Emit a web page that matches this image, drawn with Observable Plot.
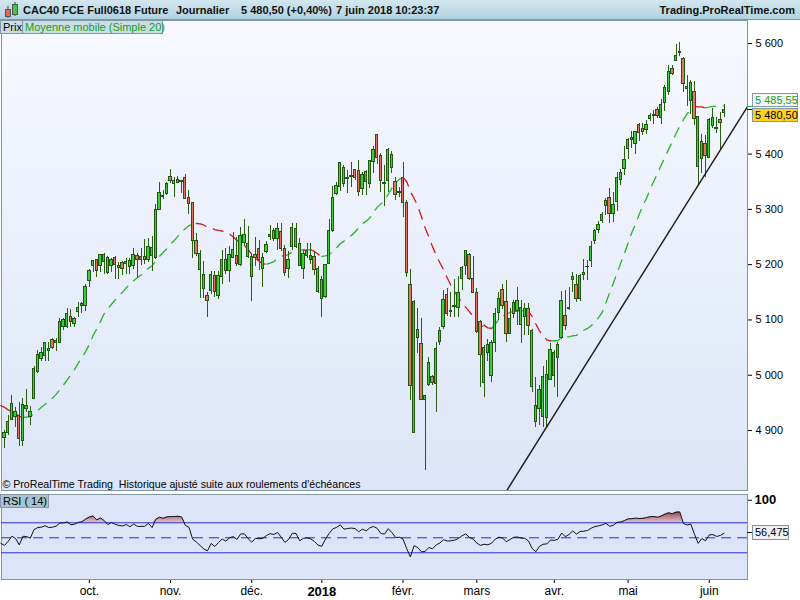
<!DOCTYPE html>
<html>
<head>
<meta charset="utf-8">
<script src="https://cdn.jsdelivr.net/npm/d3@7"></script>
<script src="https://cdn.jsdelivr.net/npm/@observablehq/plot@0.6"></script>
<style>
  body { margin: 0; background: #fff; font-family: "Liberation Sans", Arial, sans-serif; }
  #wrap { position: relative; width: 800px; height: 600px; overflow: hidden; background: #fff; }
  #head { position: absolute; left: 0; top: 0; width: 800px; height: 20px; box-sizing: border-box;
          background: linear-gradient(#d2e6ef, #b2d3e2); border-bottom: 1px solid #7d97a6;
          font-size: 11px; font-weight: bold; color: #111; }
  #head span { position: absolute; top: 1px; line-height: 19px; white-space: pre; }
  .box { position: absolute; box-sizing: border-box; font-size: 11px; line-height: 12px; white-space: pre; border: 1px solid #8197a4; }
  #main, #rsi { position: absolute; left: 0; }
  #main { top: 19px; }
  #rsi { top: 493px; }
</style>
</head>
<body>
<div id="wrap">
  <div id="head">
    <svg width="18" height="18" style="position:absolute;left:2px;top:1px">
      <line x1="6" y1="5" x2="6" y2="17" stroke="#444"/>
      <rect x="3.5" y="8.5" width="5" height="7" fill="#e06a5a" stroke="#555"/>
      <line x1="13" y1="1" x2="13" y2="15" stroke="#444"/>
      <rect x="10.5" y="3.5" width="5" height="10" fill="#3bcc3b" stroke="#555"/>
    </svg>
    <span style="left:23px">CAC40 FCE Full0618 Future</span>
    <span style="left:176px">Journalier</span>
    <span style="left:241px">5 480,50 (+0,40%)</span>
    <span style="left:336px">7 juin 2018 10:23:37</span>
    <span style="right:5px">Trading.ProRealTime.com</span>
  </div>
  <div id="main"></div>
  <div id="rsi"></div>
</div>
<script>
// OHLC, one candle per trading day (30 Aug 2017 .. 7 Jun 2018)
const open = [4887,4896,4919,4924,4927,4881,4939,4924,4957,5006,5029,5035,5043,5063,5058,5058,5088,5087,5106,5093,
  5114,5125,5125,5170,5197,5208,5197,5218,5212,5197,5212,5198,5203,5202,5207,5197,5216,5213,5213,5209,
  5231,5212,5299,5322,5327,5359,5346,5348,5349,5357,5321,5312,5242,5220,5182,5143,5153,5179,5144,5178,
  5209,5188,5212,5215,5199,5239,5237,5214,5217,5229,5193,5223,5250,5260,5247,5259,5229,5193,5232,5232,
  5238,5193,5215,5208,5214,5193,5172,5141,5202,5261,5327,5340,5375,5357,5358,5372,5369,5337,5367,5346,
  5385,5434,5396,5348,5351,5399,5349,5331,5357,5312,5164,4896,5068,5057,4956,4983,4996,4984,5060,5087,
  5145,5117,5125,5122,5174,5197,5218,5174,5149,5096,4986,5054,4999,5059,5112,5154,5132,5075,5111,5117,
  5090,5105,5120,5080,4945,4939,4924,4923,4992,4998,5032,5068,5108,5119,5172,5164,5138,5182,5195,5206,
  5243,5263,5279,5306,5320,5292,5314,5353,5373,5410,5426,5419,5453,5446,5443,5464,5468,5480,5465,5493,
  5512,5553,5569,5584,5572,5522,5496,5512,5467,5391,5418,5393,5450,5446,5462,5474];
const high = [4900,4928,4963,4942,4950,4957,4974,4943,5016,5045,5051,5060,5060,5067,5066,5102,5102,5120,5118,5105,
  5132,5132,5164,5191,5208,5208,5218,5220,5215,5212,5215,5203,5206,5212,5211,5229,5220,5229,5245,5248,
  5251,5308,5348,5334,5348,5372,5358,5360,5352,5363,5335,5313,5256,5226,5205,5150,5187,5187,5187,5226,
  5229,5232,5259,5250,5268,5282,5269,5221,5249,5244,5221,5241,5271,5265,5274,5274,5235,5223,5275,5274,
  5247,5223,5238,5238,5223,5196,5178,5200,5281,5341,5349,5384,5379,5370,5384,5373,5389,5367,5370,5389,
  5413,5434,5401,5379,5410,5404,5358,5340,5384,5316,5192,5135,5120,5102,4962,5032,4999,5060,5087,5153,
  5156,5149,5174,5179,5197,5226,5220,5214,5156,5099,5054,5064,5062,5120,5150,5164,5171,5120,5135,5159,
  5135,5129,5129,5082,4995,4981,5015,5027,5057,5045,5060,5151,5153,5159,5185,5183,5183,5209,5207,5241,
  5263,5278,5295,5319,5337,5331,5367,5373,5414,5429,5440,5441,5455,5455,5461,5473,5479,5484,5499,5524,
  5561,5561,5598,5601,5575,5542,5533,5531,5467,5435,5434,5464,5483,5467,5475,5490];
const low = [4868,4891,4918,4906,4871,4871,4933,4909,4956,5004,5024,5024,5024,5046,5043,5057,5080,5084,5087,5087,
  5105,5111,5115,5158,5185,5176,5186,5182,5183,5185,5173,5174,5180,5182,5182,5192,5177,5198,5201,5204,
  5188,5209,5298,5318,5325,5346,5321,5346,5328,5317,5291,5211,5214,5138,5138,5104,5146,5141,5137,5164,
  5182,5167,5211,5196,5196,5232,5211,5134,5196,5190,5159,5220,5244,5241,5226,5223,5178,5175,5225,5229,
  5196,5173,5211,5200,5181,5147,5104,5138,5200,5259,5325,5333,5339,5328,5340,5352,5323,5325,5325,5337,
  5364,5382,5331,5305,5331,5364,5316,5322,5285,5176,4955,4896,5039,4956,4827,4979,4982,4933,5053,5082,
  5107,5105,5105,5105,5153,5180,5171,5147,5075,4977,4959,5024,4986,5042,5099,5118,5060,5075,5102,5090,
  5058,5072,5072,4969,4906,4909,4906,4905,4991,4977,4960,5064,5080,5117,5150,5132,5134,5171,5171,5194,
  5236,5256,5274,5289,5274,5277,5296,5344,5362,5391,5410,5400,5422,5434,5435,5459,5453,5464,5453,5477,
  5506,5543,5567,5577,5511,5486,5471,5452,5344,5364,5358,5393,5446,5438,5406,5467];
const close = [4895,4916,4948,4934,4885,4947,4945,4933,5012,5036,5041,5058,5047,5050,5061,5097,5099,5110,5096,5102,
  5121,5128,5159,5188,5206,5188,5217,5205,5185,5209,5200,5194,5192,5205,5195,5218,5208,5208,5208,5232,
  5215,5299,5330,5325,5345,5351,5352,5354,5352,5319,5310,5242,5220,5191,5156,5134,5182,5150,5179,5208,
  5188,5217,5227,5202,5252,5254,5214,5178,5212,5208,5212,5236,5253,5247,5265,5229,5184,5208,5267,5265,
  5197,5220,5224,5215,5190,5150,5138,5199,5260,5321,5342,5384,5346,5355,5361,5357,5331,5363,5349,5387,
  5407,5392,5351,5346,5408,5375,5326,5330,5312,5185,4981,5132,5082,4956,4962,5022,4986,5048,5080,5136,
  5110,5114,5124,5149,5194,5224,5174,5149,5078,5036,5050,5040,5059,5111,5138,5126,5075,5102,5131,5135,
  5121,5120,5089,4978,4915,4973,4997,5001,5046,5041,5055,5135,5089,5122,5177,5138,5180,5185,5196,5232,
  5260,5271,5289,5316,5292,5308,5357,5366,5390,5425,5429,5440,5438,5440,5453,5469,5471,5468,5489,5519,
  5549,5545,5578,5583,5527,5518,5529,5463,5376,5422,5397,5462,5465,5447,5457,5480.5];
// closes of the 20 sessions before the first visible candle (estimated from the moving average's start)
const prior = [4955,5010,5025,4985,4990,4980,4940,4915,4905,4925,4922,4950,4945,4930,4925,4923,4925,4935,4905,4910];

const tickIdx = [23, 45, 67, 86, 108, 128, 149, 169, 191];
const tickLab = ["oct.", "nov.", "déc.", "2018", "févr.", "mars", "avr.", "mai", "juin"];
const priceTicks = [4900, 5000, 5100, 5200, 5300, 5400, 5600];
const trendIdx = [139, 200.7];
const trendVal = [4822, 5479];
const lastClose = 5480.5, lastMA = 5485.55, lastRSI = 56.475;

const xDom = [-0.813, 201.36];
const yDom = [4791.5, 5641.6];
const rsiDom = [-5.6, 107.7];

const candles = close.map((c, i) => ({i, open: open[i], high: high[i], low: low[i], close: c}));
const up = candles.filter(d => d.close >= d.open);
const dn = candles.filter(d => d.close < d.open);

// simple moving average 20 over prior + visible closes
const all = prior.concat(close);
const off = prior.length;
const ma = [];
for (let k = 19; k < all.length; k++) ma.push({i: k - off, v: d3.mean(all.slice(k - 19, k + 1))});
const maUp = [], maDn = [];
let run = 0, prevDir = null;
for (let j = 1; j < ma.length; j++) {
  const rising = ma[j].v >= ma[j - 1].v;
  const tgt = rising ? maUp : maDn;
  if (rising !== prevDir) { run++; prevDir = rising; tgt.push({...ma[j - 1], run}); }
  tgt.push({...ma[j], run});
}

// RSI 14 (Wilder)
const rsi = [];
let ag = 0, al = 0;
for (let k = 1; k <= 14; k++) { const d = all[k] - all[k - 1]; ag += Math.max(d, 0); al += Math.max(-d, 0); }
ag /= 14; al /= 14;
for (let k = 14; k < all.length; k++) {
  if (k > 14) {
    const d = all[k] - all[k - 1];
    ag = (ag * 13 + Math.max(d, 0)) / 14;
    al = (al * 13 + Math.max(-d, 0)) / 14;
  }
  if (k - off >= -1) rsi.push({i: k - off, r: 100 - 100 / (1 + ag / al)});
}

const slope = (trendVal[1] - trendVal[0]) / (trendIdx[1] - trendIdx[0]);
const trend = [{
  x1: trendIdx[0] + (yDom[0] - trendVal[0]) / slope, y1: yDom[0],
  x2: xDom[1], y2: trendVal[0] + (xDom[1] - trendIdx[0]) * slope
}];

const fmtP = d => d3.format(",")(d).replace(",", " ");

const main = Plot.plot({
  width: 800, height: 472,
  marginTop: 1, marginBottom: 1, marginLeft: 1, marginRight: 53,
  style: {fontFamily: "Liberation Sans, Arial, sans-serif", fontSize: "11px", color: "#000", background: "transparent", overflow: "visible"},
  x: {domain: xDom, axis: null},
  y: {domain: yDom, axis: "right", ticks: priceTicks, tickFormat: fmtP, tickSize: 4, tickPadding: 4, label: null},
  marks: [
    Plot.frame({fill: "url(#gMain)", stroke: "#8396a6"}),
    Plot.line(maUp, {x: "i", y: "v", z: "run", stroke: "#27b327", strokeWidth: 1.3, strokeDasharray: "10,8"}),
    Plot.line(maDn, {x: "i", y: "v", z: "run", stroke: "#d41818", strokeWidth: 1.3, strokeDasharray: "10,8"}),
    Plot.ruleX(candles, {x: "i", y1: "low", y2: "high", stroke: "#2a5f10", strokeWidth: 1, shapeRendering: "crispEdges"}),
    Plot.rect(up, {x1: d => d.i - 0.32, x2: d => d.i + 0.32, y1: "open", y2: "close", fill: "#3ccc3c", stroke: "#1d5a0e", strokeWidth: 1, shapeRendering: "crispEdges"}),
    Plot.rect(dn, {x1: d => d.i - 0.32, x2: d => d.i + 0.32, y1: "open", y2: "close", fill: "#e6735f", stroke: "#1d5a0e", strokeWidth: 1, shapeRendering: "crispEdges"}),
    Plot.link(trend, {x1: "x1", y1: "y1", x2: "x2", y2: "y2", stroke: "#1a1a1a", strokeWidth: 1.4, clip: true}),
    Plot.text(["© ProRealTime Trading  Historique ajusté suite aux roulements d'échéances"], {frameAnchor: "bottom-left", dx: 1, dy: -3, fontSize: 10.6, fill: "#000", text: d => d})
  ]
});

const rsiPlot = Plot.plot({
  width: 800, height: 107,
  marginTop: 1, marginBottom: 21, marginLeft: 1, marginRight: 53,
  style: {fontFamily: "Liberation Sans, Arial, sans-serif", fontSize: "12px", color: "#000", background: "transparent", overflow: "visible"},
  x: {domain: xDom, ticks: tickIdx, tickFormat: d => tickLab[tickIdx.indexOf(d)], tickSize: 4, tickPadding: 3, label: null},
  y: {domain: rsiDom, axis: "right", ticks: [100], tickSize: 4, tickPadding: 3, label: null},
  marks: [
    Plot.frame({fill: "#dbe4f9", stroke: "#8396a6"}),
    Plot.areaY(rsi, {x: "i", y1: () => 70, y2: d => Math.max(d.r, 70), fill: "url(#gRsi)"}),
    Plot.ruleY([70, 30], {stroke: "#2b2bd6", strokeWidth: 1}),
    Plot.ruleY([50], {stroke: "#2b2bd6", strokeWidth: 1, strokeDasharray: "10,6"}),
    Plot.line(rsi, {x: "i", y: "r", stroke: "#111", strokeWidth: 1})
  ]
});

d3.select(main).insert("defs", ":first-child").html(
  `<linearGradient id="gMain" x1="0" y1="0" x2="0" y2="1">
     <stop offset="0" stop-color="#f7f9fe"/><stop offset="1" stop-color="#dce5f8"/></linearGradient>`);
const ry = rsiPlot.scale("y");
d3.select(rsiPlot).insert("defs", ":first-child").html(
  `<linearGradient id="gRsi" gradientUnits="userSpaceOnUse" x1="0" y1="${ry.apply(86)}" x2="0" y2="${ry.apply(70)}">
     <stop offset="0" stop-color="#8a3444"/><stop offset="1" stop-color="#e2c2ca"/></linearGradient>`);

d3.select(rsiPlot).selectAll("text").filter(function() { return this.textContent === "2018"; })
  .attr("font-weight", "bold").attr("font-size", "13px");
d3.select(rsiPlot).selectAll("text").filter(function() { return this.textContent === "100"; })
  .attr("font-weight", "bold").attr("font-size", "13px");

document.getElementById("main").append(main);
document.getElementById("rsi").append(rsiPlot);

// overlays: panel titles and value boxes
const wrap = d3.select("#wrap");
const box = (left, top, w, h, bg, color, txt) =>
  wrap.append("div").attr("class", "box")
    .style("left", left + "px").style("top", top + "px").style("width", w + "px").style("height", h + "px")
    .style("background", bg).style("color", color).style("padding-left", "2px").text(txt);

box(0, 20, 23, 14, "#cadde6", "#000", "Prix");
box(22, 20, 141, 14, "#cadde6", "#17a017", "Moyenne mobile (Simple 20)");
box(0, 494, 49, 14, "#a9c3ce", "#000", "RSI ( 14)");

const yMA = main.scale("y").apply(lastMA) + 19;
const yC = main.scale("y").apply(lastClose) + 19;
wrap.append("div").style("position", "absolute").style("left", "747px").style("top", (yMA - 0.5) + "px")
  .style("width", "6px").style("height", "1px").style("background", "#27b327");
wrap.append("div").style("position", "absolute").style("left", "747px").style("top", (yC - 0.5) + "px")
  .style("width", "6px").style("height", "1px").style("background", "#111");
box(752, yMA - 13.5, 46, 14, "#f3f6f8", "#17a017", "5 485,55");
box(752, yC - 1.5, 46, 14, "#ffd21c", "#000", "5 480,50");
const yR = ry.apply(lastRSI) + 493;
wrap.append("div").style("position", "absolute").style("left", "747px").style("top", (yR - 0.5) + "px")
  .style("width", "6px").style("height", "1px").style("background", "#111");
box(752, yR - 7, 37, 15, "#eef2f8", "#000", "56,475");
</script>
</body>
</html>
